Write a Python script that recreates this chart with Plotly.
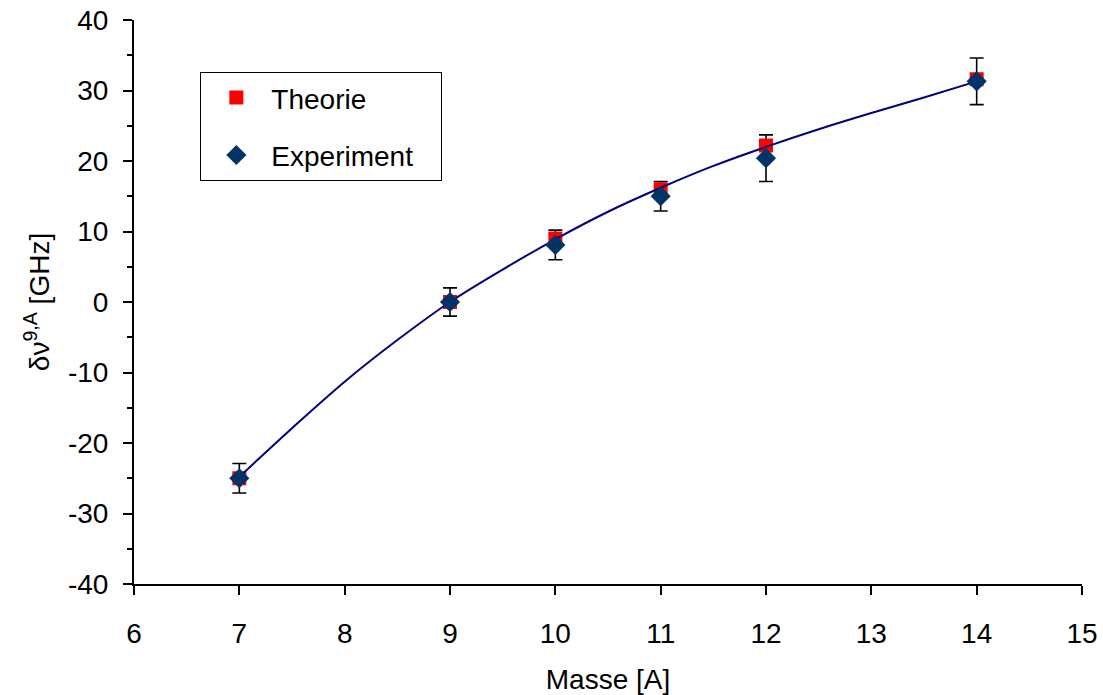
import plotly.graph_objects as go

# Data
masses = [7, 9, 10, 11, 12, 14]
theorie = [-25.0, 0.0, 9.0, 16.0, 22.2, 31.6]
experiment = [-25.0, 0.0, 8.1, 15.0, 20.4, 31.3]
exp_err = [2.1, 2.0, 2.1, 2.1, 3.3, 3.3]

curve_x = [7.0, 7.5, 8.0, 8.5, 9.0, 9.5, 10.0, 10.5, 11.0, 11.5, 12.0, 12.5, 13.0, 13.5, 14.0]
curve_y = [-24.8, -17.9, -11.3, -5.4, 0.0, 4.6, 8.9, 12.8, 16.2, 19.3, 22.0, 24.5, 26.8, 29.0, 31.3]

x_ticks = list(range(6, 16))
y_ticks = list(range(-40, 41, 10))
y_ticktext = [str(v) for v in y_ticks]  # plain hyphen-minus as in reference

FONT = "Liberation Sans, Arial, sans-serif"
PAD = "\u00a0\u00a0\u00a0"  # widen legend box like the reference

fig = go.Figure()

# error bars (drawn below markers)
fig.add_trace(go.Scatter(
    x=masses, y=experiment, mode="markers",
    marker=dict(size=1, color="rgba(0,0,0,0)"),
    error_y=dict(type="data", array=exp_err, visible=True, color="black",
                 thickness=1.6, width=7),
    showlegend=False, hoverinfo="skip"))

fig.add_trace(go.Scatter(
    x=masses, y=theorie, mode="markers", name="Theorie",
    marker=dict(symbol="square", size=14, color="#FF0000"),
    legendgroup="a"))

fig.add_trace(go.Scatter(
    x=curve_x, y=curve_y, mode="lines", line=dict(color="#000080", width=2, shape="spline"),
    showlegend=False, hoverinfo="skip"))

fig.add_trace(go.Scatter(
    x=masses, y=experiment, mode="markers", name="Experiment" + PAD,
    marker=dict(symbol="diamond", size=15.5, color="#003366"),
    legendgroup="b"))

fig.update_layout(
    width=1103, height=695,
    margin=dict(l=134, r=21, t=20, b=111),
    paper_bgcolor="white", plot_bgcolor="white",
    font=dict(family=FONT, size=28, color="black"),
    legend=dict(
        x=0.07, y=0.908, xanchor="left", yanchor="top",
        bordercolor="black", borderwidth=1, bgcolor="white",
        font=dict(family=FONT, size=28),
        tracegroupgap=18, traceorder="grouped",
        itemsizing="trace", itemwidth=60,
    ),
    xaxis=dict(
        range=[6, 15], tickmode="array", tickvals=x_ticks,
        showline=True, linecolor="black", linewidth=2,
        ticks="outside", ticklen=9, tickwidth=2, tickcolor="black",
        showgrid=False, zeroline=False, ticklabelstandoff=14,
        tickfont=dict(size=28), automargin=False,
        title=dict(text="Masse [A]", standoff=23, font=dict(size=28)),
        mirror=False,
    ),
    yaxis=dict(
        range=[-40, 40], tickmode="array", tickvals=y_ticks, ticktext=y_ticktext,
        showline=True, linecolor="black", linewidth=2,
        ticks="outside", ticklen=9, tickwidth=2, tickcolor="black",
        minor=dict(ticks="outside", ticklen=5, tickwidth=2, tickcolor="black", dtick=5,
                   tick0=-40, showgrid=False),
        showgrid=False, zeroline=False, ticklabelstandoff=9,
        tickfont=dict(size=28), automargin=False,
        title=dict(text="δν<sup>9,A</sup> [GHz]", standoff=10, font=dict(size=28)),
    ),
)

fig.write_html("out.html")
